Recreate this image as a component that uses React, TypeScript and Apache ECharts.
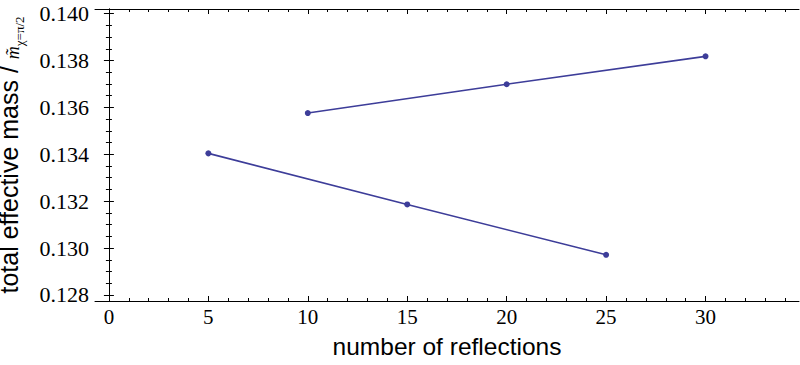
import React, { useEffect, useRef } from "react";
import * as echarts from "echarts";

const seriesAx = [5, 15, 25];
const seriesAy = [0.13404, 0.13186, 0.12971];
const seriesBx = [10, 20, 30];
const seriesBy = [0.13576, 0.13699, 0.13818];

const xTickLabels = [0, 5, 10, 15, 20, 25, 30];
const yTickLabels = [0.128, 0.13, 0.132, 0.134, 0.136, 0.138, 0.14];

const X_MIN = -0.7;
const X_MAX = 34.7;
const Y_MIN = 0.12774;
const Y_MAX = 0.1402;

const xMinor: number[] = [];
for (let i = 0; i <= 34; i++) xMinor.push(i);
const yMinor: number[] = [];
for (let i = 0; i <= 25; i++) yMinor.push(Number((0.1275 + i * 0.0005).toFixed(4)));

const LINE_COLOR = "#3d3d99";
const SERIF = "Liberation Serif";
const SANS = "Liberation Sans";

export default function App() {
  const ref = useRef<HTMLDivElement>(null);
  useEffect(() => {
    document.body.style.margin = "0";
    const chart = echarts.init(ref.current!, null, { renderer: "svg" });
    const axisLine = { show: true, lineStyle: { color: "#000", width: 1 } };
    const mkX = (pos: "bottom" | "top", main: boolean, major: boolean) => ({
      type: "value",
      position: pos,
      min: X_MIN,
      max: X_MAX,
      axisLine: main ? axisLine : { show: false },
      splitLine: { show: false },
      axisTick: {
        show: true,
        inside: true,
        length: major ? 5 : 3,
        customValues: major ? xTickLabels : xMinor,
        lineStyle: { color: "#000", width: 1 },
      },
      axisLabel:
        pos === "bottom" && major
          ? {
              show: true,
              customValues: xTickLabels,
              margin: 5,
              color: "#000",
              fontFamily: SERIF,
              fontSize: 21,
              formatter: (v: number) => `{s|${v}}`,
              rich: { s: { fontFamily: SERIF, fontSize: 21, color: "#000" } },
            }
          : { show: false },
    });
    const mkY = (pos: "left" | "right", main: boolean, major: boolean) => ({
      type: "value",
      position: pos,
      min: Y_MIN,
      max: Y_MAX,
      axisLine: main ? axisLine : { show: false },
      splitLine: { show: false },
      axisTick: {
        show: true,
        inside: true,
        length: major ? 5 : 3,
        customValues: major ? yTickLabels : yMinor,
        lineStyle: { color: "#000", width: 1 },
      },
      axisLabel:
        pos === "left" && major
          ? {
              show: true,
              customValues: yTickLabels,
              margin: 6,
              color: "#000",
              fontFamily: SERIF,
              fontSize: 22,
              formatter: (v: number) => `{s|${v.toFixed(3)}}`,
              rich: { s: { fontFamily: SERIF, fontSize: 22, color: "#000" } },
            }
          : { show: false },
    });

    const xMain: any = mkX("bottom", true, true);
    xMain.name = "number of reflections";
    xMain.nameLocation = "middle";
    xMain.nameGap = 33;
    xMain.nameMoveOverlap = false;
    xMain.nameTextStyle = { color: "#000", fontFamily: SANS, fontSize: 24.5 };

    const yMain: any = mkY("left", true, true);
    yMain.name = "{t|total effective mass / }{m|m\u0303}{sub|\u03c7=\u03c0/2}";
    yMain.nameLocation = "middle";
    yMain.nameGap = 69;
    yMain.nameMoveOverlap = false;
    yMain.nameTextStyle = {
      color: "#000",
      fontFamily: SANS,
      fontSize: 25,
      lineHeight: 34,
      rich: {
        t: { fontFamily: SANS, fontSize: 25, lineHeight: 34, color: "#000" },
        m: { fontFamily: SERIF, fontStyle: "italic", fontSize: 18, lineHeight: 34, color: "#000", verticalAlign: "bottom", padding: [0, 0, 4, 0] },
        sub: { fontFamily: SERIF, fontSize: 13, lineHeight: 13, color: "#000", verticalAlign: "bottom" },
      },
    };

    chart.setOption({
      animation: false,
      grid: { left: 95, right: 1, top: 9, bottom: 64, containLabel: false, outerBoundsMode: "none" },
      xAxis: [xMain, mkX("top", true, true), mkX("bottom", false, false), mkX("top", false, false)],
      yAxis: [yMain, mkY("right", true, true), mkY("left", false, false), mkY("right", false, false)],
      series: [
        {
          type: "line",
          data: seriesAx.map((x, i) => [x, seriesAy[i]]),
          symbol: "circle",
          symbolSize: 6,
          lineStyle: { color: LINE_COLOR, width: 1.6 },
          itemStyle: { color: LINE_COLOR },
        },
        {
          type: "line",
          data: seriesBx.map((x, i) => [x, seriesBy[i]]),
          symbol: "circle",
          symbolSize: 6,
          lineStyle: { color: LINE_COLOR, width: 1.6 },
          itemStyle: { color: LINE_COLOR },
        },
      ],
    });
    return () => chart.dispose();
  }, []);
  return <div ref={ref} style={{ width: 800, height: 365 }} />;
}
